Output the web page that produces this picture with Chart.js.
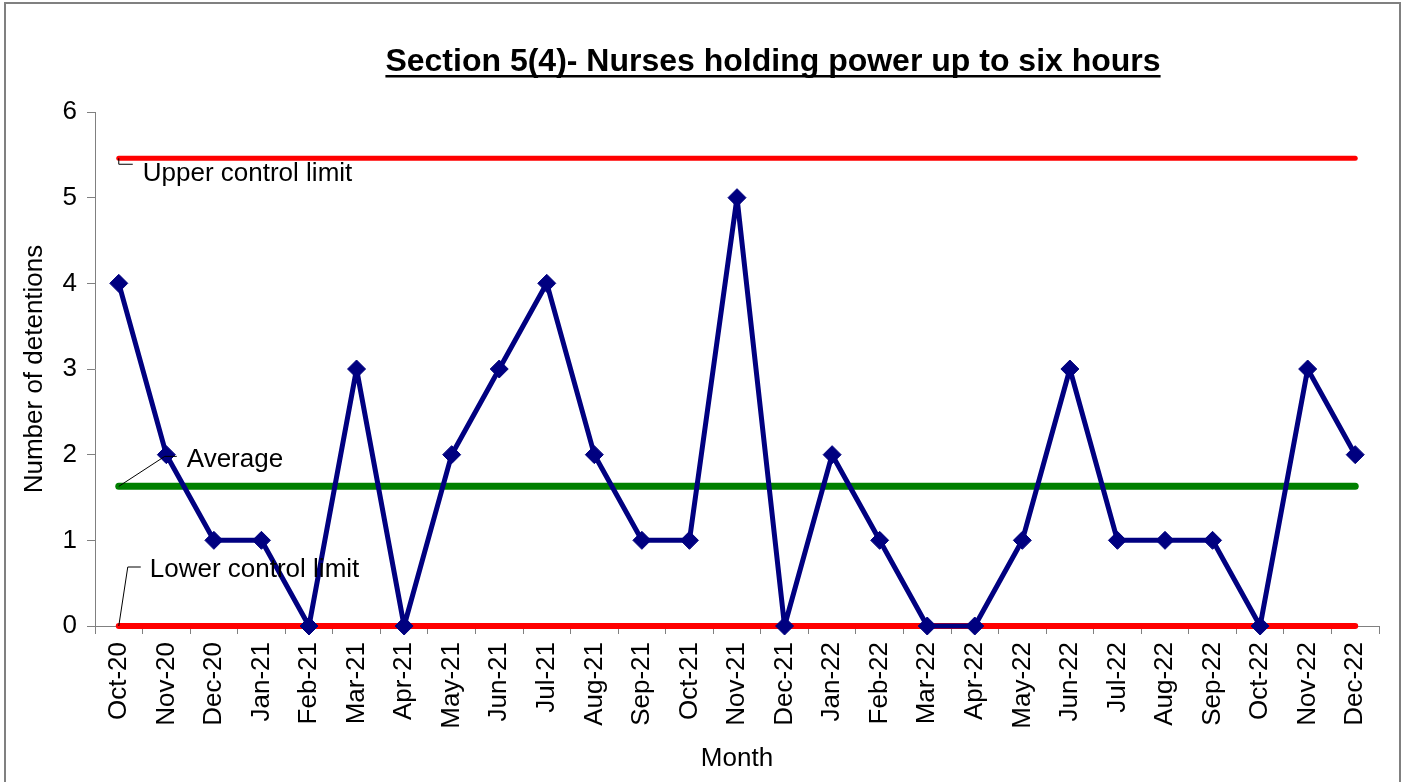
<!DOCTYPE html>
<html>
<head>
<meta charset="utf-8">
<script src="https://cdn.jsdelivr.net/npm/chart.js@4"></script>
<style>
  html, body { margin: 0; padding: 0; background: #fff; }
  #wrap { width: 1407px; height: 782px; position: relative; }
</style>
</head>
<body>
<div id="wrap"><canvas id="chart" width="1407" height="782"></canvas></div>
<script>
// ================= DATA =================
const months = ["Oct-20","Nov-20","Dec-20","Jan-21","Feb-21","Mar-21","Apr-21","May-21","Jun-21",
  "Jul-21","Aug-21","Sep-21","Oct-21","Nov-21","Dec-21","Jan-22","Feb-22","Mar-22","Apr-22",
  "May-22","Jun-22","Jul-22","Aug-22","Sep-22","Oct-22","Nov-22","Dec-22"];
const detentions = [4,2,1,1,0,3,0,2,3,4,2,1,1,5,0,2,1,0,0,1,3,1,1,1,0,3,2];
const upperLimit = 5.46;
const average = 1.63;
const lowerLimit = 0;
const yTicks = [0,1,2,3,4,5,6];

const FONT = "Arial, 'Liberation Sans', sans-serif";

// ================= LIMIT LABELS (Excel style with leader lines) =================
const limitLabels = {
  id: "limitLabels",
  afterDatasetsDraw(chart) {
    const ctx = chart.ctx;
    const x = chart.scales.x, y = chart.scales.y;
    const x0 = x.getPixelForValue(0);
    ctx.save();
    ctx.font = "26px " + FONT;
    ctx.fillStyle = "#000";
    ctx.textBaseline = "middle";
    ctx.strokeStyle = "#000";
    ctx.lineWidth = 1;

    // Upper control limit
    let py = y.getPixelForValue(upperLimit);
    ctx.beginPath();
    ctx.moveTo(x0, py);
    ctx.lineTo(x0, py + 6);
    ctx.lineTo(x0 + 14, py + 6);
    ctx.stroke();
    ctx.fillText("Upper control limit", x0 + 24, py + 16);

    // Average
    py = y.getPixelForValue(average);
    ctx.beginPath();
    ctx.moveTo(x0, py);
    ctx.lineTo(x0 + 46, py - 30);
    ctx.lineTo(x0 + 58, py - 30);
    ctx.stroke();
    ctx.fillText("Average", x0 + 68, py - 27);

    // Lower control limit
    py = y.getPixelForValue(lowerLimit);
    ctx.beginPath();
    ctx.moveTo(x0, py);
    ctx.lineTo(x0 + 9, py - 59);
    ctx.lineTo(x0 + 22, py - 59);
    ctx.stroke();
    ctx.fillText("Lower control limit", x0 + 31, py - 56);
    ctx.restore();
  }
};

// ================= TITLES + FRAME =================
const frameAndTitles = {
  id: "frameAndTitles",
  afterDraw(chart) {
    const ctx = chart.ctx;
    const area = chart.chartArea;
    ctx.save();
    // outer frame
    ctx.strokeStyle = "#808080";
    ctx.lineWidth = 2;
    ctx.strokeRect(5, 3, 1395, 790);

    // main title (bold, underlined)
    ctx.fillStyle = "#000";
    ctx.font = "bold 32px " + FONT;
    ctx.textAlign = "center";
    ctx.textBaseline = "alphabetic";
    const title = "Section 5(4)- Nurses holding power up to six hours";
    const tx = 773, ty = 71;
    ctx.fillText(title, tx, ty);
    const w = ctx.measureText(title).width;
    ctx.fillRect(tx - w / 2, ty + 4, w, 2.5);

    // axis titles
    ctx.font = "26px " + FONT;
    ctx.textBaseline = "middle";
    ctx.fillText("Month", (area.left + area.right) / 2, 759);
    ctx.translate(35, (area.top + area.bottom) / 2);
    ctx.rotate(-Math.PI / 2);
    ctx.fillText("Number of detentions", 0, 0);
    ctx.restore();
  }
};

const flat = v => months.map(() => v);

new Chart(document.getElementById("chart"), {
  type: "line",
  data: {
    labels: months,
    datasets: [
      {
        label: "Detentions",
        data: detentions,
        borderColor: "#000080",
        backgroundColor: "#000080",
        borderWidth: 5,
        borderJoinStyle: "round",
        pointStyle: "rectRot",
        pointRadius: 9,
        pointHoverRadius: 9,
        pointBorderWidth: 1,
        tension: 0,
        clip: 12,
        order: 0
      },
      {
        label: "Upper control limit",
        data: flat(upperLimit),
        borderColor: "#ff0000",
        borderWidth: 5,
        borderCapStyle: "round",
        pointRadius: 0,
        clip: 12,
        order: 1
      },
      {
        label: "Average",
        data: flat(average),
        borderColor: "#008000",
        borderWidth: 7,
        borderCapStyle: "round",
        pointRadius: 0,
        clip: 12,
        order: 1
      },
      {
        label: "Lower control limit",
        data: flat(lowerLimit),
        borderColor: "#ff0000",
        borderWidth: 6,
        borderCapStyle: "round",
        pointRadius: 0,
        clip: 12,
        order: 1
      }
    ]
  },
  options: {
    responsive: false,
    animation: false,
    layout: { padding: { top: 112, right: 28, left: 0, bottom: 0 } },
    plugins: {
      legend: { display: false },
      tooltip: { enabled: false },
      title: { display: false }
    },
    scales: {
      x: {
        type: "category",
        offset: true,
        grid: {
          offset: true,
          drawOnChartArea: false,
          drawTicks: true,
          tickLength: 8,
          color: "#808080"
        },
        border: { color: "#808080", width: 1, z: -1 },
        ticks: {
          color: "#000",
          font: { family: FONT, size: 26 },
          maxRotation: 90,
          minRotation: 90,
          autoSkip: false,
          padding: 8
        },
        afterFit(axis) { axis.height = 156; }
      },
      y: {
        min: 0,
        max: 6,
        afterBuildTicks(axis) { axis.ticks = yTicks.map(v => ({ value: v })); },
        grid: {
          drawOnChartArea: false,
          drawTicks: true,
          tickLength: 8,
          color: "#808080"
        },
        border: { color: "#808080", width: 1 },
        ticks: {
          color: "#000",
          font: { family: FONT, size: 26 },
          padding: 10
        },
        afterFit(axis) { axis.width = 95; }
      }
    }
  },
  plugins: [limitLabels, frameAndTitles]
});
</script>
</body>
</html>
